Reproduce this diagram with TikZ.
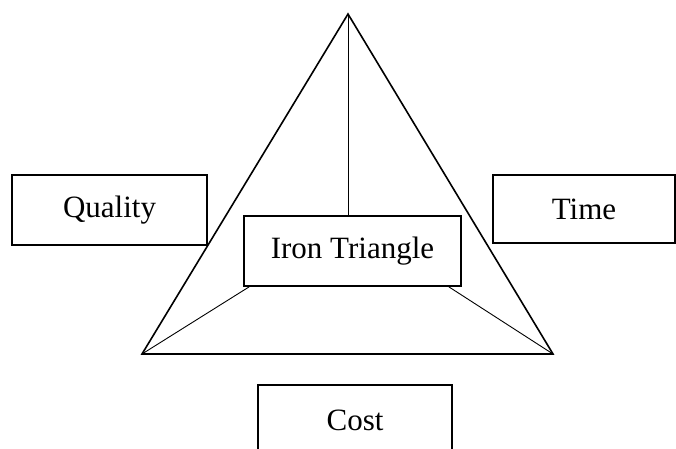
\documentclass[tikz,border=0pt]{standalone}
\usepackage{fontspec}
\setmainfont{Liberation Serif}
\usetikzlibrary{calc}
\begin{document}
\begin{tikzpicture}[x=1pt,y=-1pt,
  box/.style={draw,line width=1.6pt,inner sep=0pt,font=\fontsize{31}{36}\selectfont},
  edge/.style={line width=1.6pt,line join=miter},
  spoke/.style={line width=0.9pt}]
  \useasboundingbox (0,0) rectangle (676,448);
  \clip (0,0) rectangle (676,448);
  % corners of the triangle
  \coordinate (apex) at (348,14);
  \coordinate (bl) at (142,354);
  \coordinate (br) at (553,354);
  \draw[edge] (apex) -- (bl) -- (br) -- cycle;
  % labelled boxes
  \node[box,minimum width=195pt,minimum height=70pt] (quality) at (109.5,210) {Quality};
  \node[box,minimum width=182pt,minimum height=68pt] (time) at (584,209) {Time};
  \node[box,fill=white,minimum width=217pt,minimum height=70pt] (iron) at (352.5,251) {Iron Triangle};
  \node[box,minimum width=194pt,minimum height=70pt] (cost) at (355,420) {Cost};
  % spokes from the corners to the centre box
  \draw[spoke] (apex) -- (apex |- iron.north);
  \draw[spoke] (bl) -- ($(iron.south west)+(6,0)$);
  \draw[spoke] (br) -- ($(iron.south east)+(-13,0)$);
\end{tikzpicture}
\end{document}
